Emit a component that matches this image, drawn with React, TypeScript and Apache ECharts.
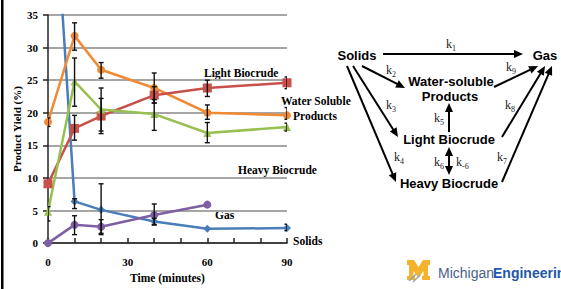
import React, { useEffect, useRef } from "react";
import * as echarts from "echarts";

const minutes = [0, 10, 20, 40, 60, 90];
const solids = [70, 6.4, 5.1, 3.3, 2.2, 2.3];
const waterSoluble = [18.6, 31.8, 26.6, 23.8, 20.0, 19.6];
const lightBiocrude = [9.1, 17.6, 19.5, 22.7, 23.8, 24.6];
const heavyBiocrude = [4.8, 24.8, 20.5, 19.8, 16.9, 17.8];
const gas = [0, 2.8, 2.5, 4.3, 5.9];

const solidsErr = [[10, 5.3, 6.8], [20, 1.3, 9.1], [40, 2.8, 3.8], [90, 1.9, 2.9]];
const waterErr = [[0, 17.9, 19.2], [10, 29.6, 33.8], [20, 25.3, 27.7], [40, 21.5, 26.1], [60, 19.0, 21.2], [90, 19.0, 20.8]];
const lightErr = [[10, 15.8, 19.6], [20, 16.8, 22.2], [40, 21.5, 24.0], [60, 22.5, 25.0], [90, 23.7, 25.5]];
const heavyErr = [[0, 3.4, 5.6], [10, 21.0, 28.4], [20, 17.2, 23.8], [40, 17.3, 22.0], [60, 15.4, 18.5], [90, 17.2, 18.4]];
const gasErr = [[10, 1.3, 4.2], [20, 1.5, 3.6], [40, 2.8, 6.0]];

const xLabels = [0, 30, 60, 90];

const SERIF = "'Liberation Serif', 'Times New Roman', serif";
const SANS = "'Liberation Sans', Arial, sans-serif";

function pairs(ys: number[]) {
  return ys.map((y, i) => [minutes[i], y]);
}

function lineSeries(name: string, ys: number[], color: string, symbol: string, size: number) {
  return {
    name,
    type: "line",
    data: pairs(ys),
    symbol,
    symbolSize: size,
    clip: true,
    lineStyle: { color, width: 2.5 },
    itemStyle: { color },
    z: 3,
  };
}

function errSeries(data: number[][]) {
  return {
    type: "custom",
    data,
    z: 5,
    clip: true,
    renderItem: (params: any, api: any) => {
      const x = api.value(0);
      const lo = api.value(1);
      const hi = api.value(2);
      const a = api.coord([x, hi]);
      const b = api.coord([x, lo]);
      const w = 2.5;
      const st = { stroke: "#111", lineWidth: 1.4 };
      return {
        type: "group",
        children: [
          { type: "line", shape: { x1: a[0], y1: a[1], x2: b[0], y2: b[1] }, style: st },
          { type: "line", shape: { x1: a[0] - w, y1: a[1], x2: a[0] + w, y2: a[1] }, style: st },
          { type: "line", shape: { x1: b[0] - w, y1: b[1], x2: b[0] + w, y2: b[1] }, style: st },
        ],
      };
    },
  };
}

function arrow(x1: number, y1: number, x2: number, y2: number, both = false) {
  const ang = Math.atan2(y2 - y1, x2 - x1);
  const L = 9;
  const W = 4;
  const c = Math.cos(ang);
  const s = Math.sin(ang);
  const head = (tx: number, ty: number, dc: number, ds: number) => ({
    type: "polygon",
    shape: {
      points: [
        [tx, ty],
        [tx - L * dc + W * ds, ty - L * ds - W * dc],
        [tx - L * dc - W * ds, ty - L * ds + W * dc],
      ],
    },
    style: { fill: "#000" },
  });
  const sx = both ? x1 + L * 0.8 * c : x1;
  const sy = both ? y1 + L * 0.8 * s : y1;
  const children: any[] = [
    {
      type: "line",
      shape: { x1: sx, y1: sy, x2: x2 - L * 0.8 * c, y2: y2 - L * 0.8 * s },
      style: { stroke: "#000", lineWidth: 2 },
    },
    head(x2, y2, c, s),
  ];
  if (both) children.push(head(x1, y1, -c, -s));
  return { type: "group", children };
}

function kLabel(x: number, y: number, sub: string) {
  return {
    type: "group",
    children: [
      { type: "text", x, y, style: { text: "k", font: `12px ${SERIF}`, fill: "#222", verticalAlign: "middle" } },
      { type: "text", x: x + 6, y: y + 4, style: { text: sub, font: `8px ${SERIF}`, fill: "#222", verticalAlign: "middle" } },
    ],
  };
}

function bigText(x: number, y: number, text: string, align = "center") {
  return {
    type: "text",
    x,
    y,
    style: { text, font: `bold 13px ${SANS}`, fill: "#000", align, verticalAlign: "middle" },
  };
}

function annot(x: number, y: number, text: string) {
  return {
    type: "text",
    x,
    y,
    style: { text, font: `bold 11.5px ${SERIF}`, fill: "#000", verticalAlign: "middle" },
  };
}

export default function App() {
  const ref = useRef<HTMLDivElement>(null);
  useEffect(() => {
    if (!ref.current) return;
    const chart = echarts.init(ref.current, null, { renderer: "svg" });
    const option: any = {
      animation: false,
      backgroundColor: "#fff",
      grid: { left: 48, top: 15, right: 274, bottom: 33, containLabel: false },
      xAxis: {
        type: "value",
        min: 0,
        max: 90,
        interval: 10,
        name: "Time (minutes)",
        nameLocation: "middle",
        nameGap: 27,
        nameTextStyle: { fontFamily: SERIF, fontWeight: "bold", fontSize: 11.5, color: "#000", verticalAlign: "top" },
        axisLine: { lineStyle: { color: "#222", width: 1.5 } },
        axisTick: { inside: true, length: 5, lineStyle: { color: "#222", width: 1.5 } },
        splitLine: { show: false },
        axisLabel: {
          margin: 13,
          fontFamily: SERIF,
          fontWeight: "bold",
          fontSize: 11,
          color: "#000",
          formatter: (v: number) => (xLabels.indexOf(v) >= 0 ? String(v) : ""),
        },
      },
      yAxis: {
        type: "value",
        min: 0,
        max: 35,
        interval: 5,
        name: "Product Yield (%)",
        nameLocation: "middle",
        nameGap: 26,
        nameTextStyle: { fontFamily: SERIF, fontWeight: "bold", fontSize: 11, color: "#000" },
        axisLine: { show: true, lineStyle: { color: "#222", width: 1.5 } },
        axisTick: { show: true, length: 5, lineStyle: { color: "#222", width: 1.5 } },
        splitLine: { show: true, lineStyle: { color: "#a6a6a6", width: 2 } },
        axisLabel: { margin: 10, fontFamily: SERIF, fontWeight: "bold", fontSize: 11, color: "#000" },
      },
      series: [
        lineSeries("Solids", solids, "#4a7ebb", "diamond", 8),
        lineSeries("Water Soluble Products", waterSoluble, "#f08a33", "circle", 8),
        lineSeries("Light Biocrude", lightBiocrude, "#c8504b", "rect", 9),
        lineSeries("Heavy Biocrude", heavyBiocrude, "#98c050", "triangle", 8),
        lineSeries("Gas", gas, "#7e5fa3", "circle", 8),
        errSeries(solidsErr),
        errSeries(waterErr),
        errSeries(lightErr),
        errSeries(heavyErr),
        errSeries(gasErr),
      ],
      graphic: [
        { type: "rect", shape: { x: 1, y: 0, width: 2.5, height: 289 }, style: { fill: "#000" } },
        annot(204, 73, "Light Biocrude"),
        annot(281, 101, "Water Soluble"),
        annot(293, 116, "Products"),
        annot(238, 170, "Heavy Biocrude"),
        annot(215, 215, "Gas"),
        annot(293, 241, "Solids"),
        bigText(357, 55, "Solids"),
        bigText(545, 55, "Gas"),
        bigText(451, 81, "Water-soluble"),
        bigText(450, 96, "Products"),
        bigText(449, 139, "Light Biocrude"),
        bigText(449, 183, "Heavy Biocrude"),
        arrow(383, 54, 523, 54),
        arrow(362, 66, 405, 88),
        arrow(353, 66, 398, 137),
        arrow(347, 66, 396, 182),
        arrow(494, 87, 538, 66),
        arrow(502, 137, 545, 66),
        arrow(502, 182, 552, 66),
        arrow(449, 132, 449, 103),
        arrow(449, 147, 449, 175, true),
        kLabel(446, 44, "1"),
        kLabel(386, 70, "2"),
        kLabel(386, 105, "3"),
        kLabel(394, 157, "4"),
        kLabel(434, 118, "5"),
        kLabel(434, 162, "6"),
        kLabel(456, 162, "-6"),
        kLabel(497, 157, "7"),
        kLabel(505, 105, "8"),
        kLabel(506, 67, "9"),
        {
          type: "polygon",
          shape: { points: [[407, 260], [414, 260], [418.5, 267], [423, 260], [430, 260], [430, 265], [428, 265], [428, 276], [430, 276], [430, 280], [422, 280], [422, 276], [423.5, 276], [423.5, 271], [418.5, 278], [413.5, 271], [413.5, 276], [415, 276], [415, 280], [407, 280], [407, 276], [409, 276], [409, 265], [407, 265]] },
          style: { fill: "#f3b32c" },
        },
        { type: "line", shape: { x1: 409, y1: 281, x2: 416, y2: 274 }, style: { stroke: "#9aa4b4", lineWidth: 1.5 } },
        { type: "line", shape: { x1: 413, y1: 282, x2: 420, y2: 275 }, style: { stroke: "#9aa4b4", lineWidth: 1.5 } },
        { type: "text", x: 438, y: 273, style: { text: "Michigan", font: `14px ${SANS}`, fill: "#4a5f86", verticalAlign: "middle" } },
        { type: "text", x: 493, y: 273, style: { text: "Engineering", font: `bold 14px ${SANS}`, fill: "#1f57a8", verticalAlign: "middle" } },
      ],
    };
    chart.setOption(option);
    return () => chart.dispose();
  }, []);
  return <div ref={ref} style={{ position: "fixed", left: 0, top: 0, width: 561, height: 289 }} />;
}
